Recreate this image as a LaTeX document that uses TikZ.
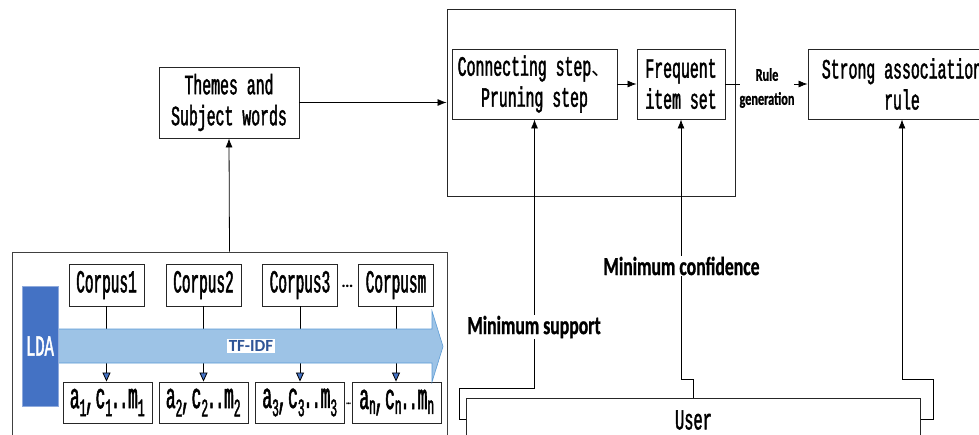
\documentclass[tikz,border=0pt]{standalone}
\usepackage{fontspec}
\usetikzlibrary{arrows.meta,calc}
\newfontfamily\monoA{Liberation Mono}[FakeStretch=0.53,FakeBold=1.5]
\newfontfamily\monoB{Liberation Mono}[FakeStretch=0.45,FakeBold=1.5]
\newfontfamily\lblfont{Carlito}[FakeStretch=0.68,FakeBold=1,UprightFont={* Bold}]
\newfontfamily\lblplain{Carlito}[UprightFont={* Bold}]
\newfontfamily\cjkfont{Noto Sans CJK SC}
\definecolor{ldablue}{HTML}{4472C4}
\definecolor{tffill}{HTML}{9DC3E6}
\definecolor{tfedge}{HTML}{5B9BD5}
\definecolor{tfdark}{HTML}{2F5597}
\newcommand\myMain{\monoA\fontsize{28}{31}\selectfont}
\newcommand\myUser{\monoA\fontsize{29}{31}\selectfont}
\newcommand\myCorp{\monoB\fontsize{32}{34}\selectfont}
\newcommand\myAf{\monoB\fontsize{36}{40}\selectfont}
\newcommand\abtext[1]{a\textsubscript{#1}\kern-2pt,\kern1pt c\textsubscript{#1}\kern-2pt.\kern-1.5pt.\kern-0.5pt m\textsubscript{#1}}
\begin{document}
\begin{tikzpicture}[x=1pt,y=-1pt,
  box/.style={draw=black!85,line width=0.9pt,fill=white,inner sep=0pt,align=center},
  arr/.style={line width=0.8pt,-{Latex[length=9pt,width=7pt]}},
  barr/.style={line width=0.8pt,-{Triangle[length=9pt,width=8pt,fill=ldablue]}},
  lbl/.style={fill=white,inner sep=1pt,font=\lblfont\fontsize{26}{28}\selectfont},
  corp/.style={box,minimum width=75pt,minimum height=42pt,font=\myCorp},
  abox/.style={box,minimum width=89pt,minimum height=41pt,font=\myAf},
  ]
\useasboundingbox (0,0) rectangle (979,434);
\clip (0,0) rectangle (979,434);
\fill[white] (0,0) rectangle (979,434);

% top part
\node[box,minimum width=140pt,minimum height=71pt,font=\myMain] (themes) at (229,102.5) {Themes and\\Subject words};
\node[box,minimum width=288pt,minimum height=187pt] (top) at (591,102.5) {};
\node[box,minimum width=165pt,minimum height=70pt,font=\myMain] (conn) at (534.5,84) {Connecting step{\cjkfont\fontsize{20}{22}\selectfont 、}\\Pruning step};
\node[box,minimum width=88pt,minimum height=70pt,font=\myMain] (freq) at (681,84) {Frequent\\item set};
\node[box,minimum width=188pt,minimum height=70pt,font=\myMain] (strong) at (902,84) {Strong association\\rule};
\node[box,minimum width=454pt,minimum height=44pt,font=\myUser] (user) at (693.5,420) {User};

% lower-left part
\node[box,draw=black!75,minimum width=435pt,minimum height=190pt] (low) at (229.5,347) {};
\node[corp] (c1) at (106.5,285) {Corpus1};
\node[corp] (c2) at (203.5,285) {Corpus2};
\node[corp] (c3) at (300,285) {Corpus3};
\node[corp] (cm) at (396,285) {Corpusm};
\node[abox] (a1) at (107.5,402.5) {\abtext{1}};
\node[abox] (a2) at (203.5,402.5) {\abtext{2}};
\node[abox] (a3) at (300,402.5) {\abtext{3}};
\node[abox] (an) at (397,402.5) {\abtext{n}};
\node[anchor=base,font=\lblplain\fontsize{17}{20}\selectfont,inner sep=0pt] (dots1) at (347.5,287) {…};
\node[anchor=base,font=\lblfont\fontsize{10}{12}\selectfont,inner sep=0pt] (dots2) at (348.5,404) {…};

\foreach \c/\a in {c1/a1,c2/a2,c3/a3,cm/an}
  \draw[barr] (\c.south) -- (\c.south |- \a.north);

% TF-IDF arrow
\path[fill=tffill,draw=tfedge,line width=0.6pt] (58,329) -- (432,329) -- (432,311) -- (443,346.5) -- (432,382) -- (432,363) -- (58,363) -- cycle;
\node[fill=white,inner sep=1.5pt,text=tfdark,font=\lblplain\fontsize{17}{20}\selectfont] (tfidf) at (251,346) {TF-IDF};
\node[draw=ldablue!60,fill=ldablue,line width=0.8pt,minimum width=36pt,minimum height=120pt,inner sep=0pt,text=white,font=\myUser] (lda) at (40,346) {LDA};

% connectors
\draw[arr] (low.north) -- (themes.south);
\draw[arr] (themes.east) -- (themes.east -| top.west);
\draw[arr] (conn.east) -- (freq.west);
\draw[arr] (freq.east) -- (strong.west);
\node[fill=white,inner sep=0pt,align=center,font=\lblfont\fontsize{18}{24}\selectfont] (rg) at (767,88) {Rule\\generation};

\coordinate (s1) at (534.5,388.5);
\coordinate (s2) at (681,379);
\coordinate (s3) at (902,379);
\draw[arr] ([yshift=1pt]user.west) -- ++(-7,0) |- (s1) -- (conn.south);
\draw[arr] (user.north) |- (s2) -- (freq.south);
\draw[arr] ([yshift=1pt]user.east) -- ++(12,0) |- (s3) -- (strong.south);
\node[lbl] (minsup) at (534,327) {Minimum support};
\node[lbl] (minconf) at (681.5,266) {Minimum confidence};
\end{tikzpicture}
\end{document}
